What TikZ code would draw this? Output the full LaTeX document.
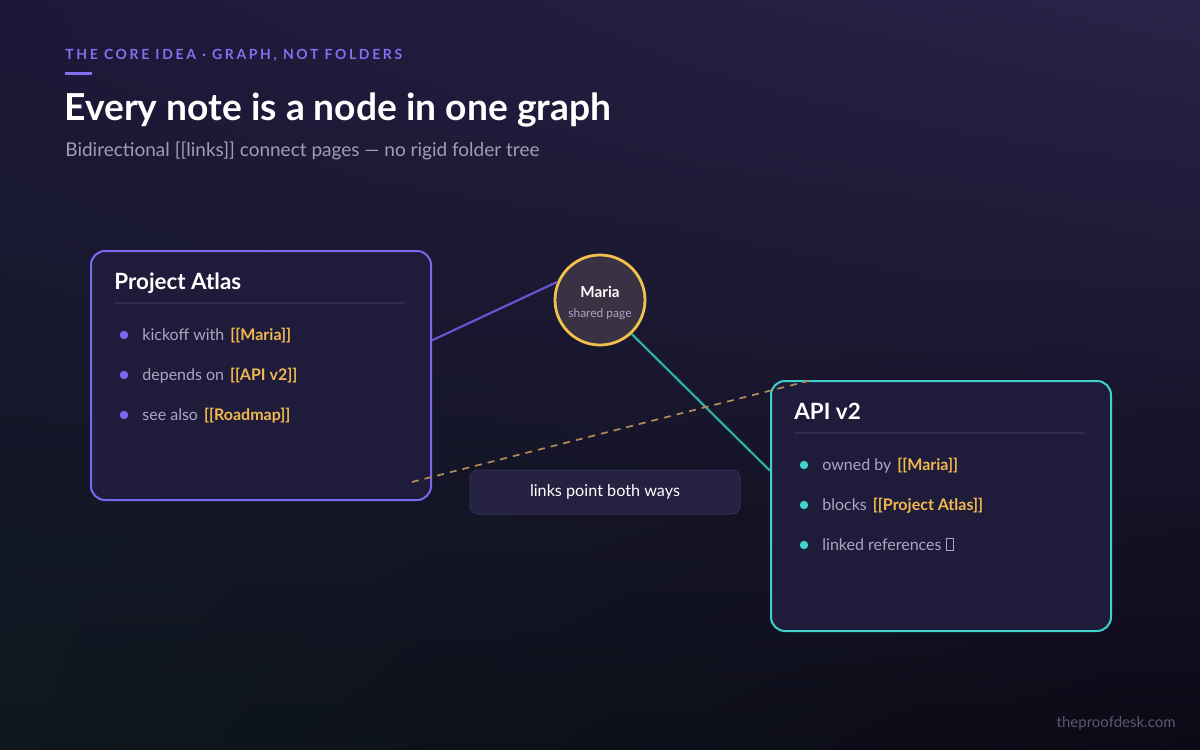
\documentclass[tikz,border=0pt]{standalone}
\usepackage{fontspec}
\setmainfont{Lato}
\newfontfamily\kickerfont[LetterSpace=19]{Lato}
\usetikzlibrary{calc,positioning,shadings}

\definecolor{bgUL}{HTML}{1D1839}
\definecolor{bgUR}{HTML}{2B2249}
\definecolor{bgLL}{HTML}{0E171D}
\definecolor{bgLR}{HTML}{0B0915}
\definecolor{accent}{HTML}{8270F0}
\definecolor{cardfill}{HTML}{1F1B3A}
\definecolor{rulecol}{HTML}{2F2A4C}
\definecolor{itemgray}{HTML}{ABA6C2}
\definecolor{subgray}{HTML}{A19CB6}
\definecolor{linkgold}{HTML}{F0B84E}
\definecolor{atlasline}{HTML}{7B68EE}
\definecolor{apiline}{HTML}{3FD2CC}
\definecolor{tealline}{HTML}{2BAFA6}
\definecolor{purpline}{HTML}{6555CC}
\definecolor{mariafill}{HTML}{3A3142}
\definecolor{mariaring}{HTML}{F2C04E}
\definecolor{pillfill}{HTML}{252140}
\definecolor{pillline}{HTML}{332E56}
\definecolor{dashgold}{HTML}{B08C58}
\definecolor{footgray}{HTML}{5C5874}

\newcommand{\lnk}[1]{\hspace{0.12em}\textcolor{linkgold}{\bfseries #1}}
\newcommand{\tofubox}{{\fboxsep=0pt\fboxrule=0.35pt\fbox{\rule{0pt}{0.68em}\hspace{0.42em}}}}

\begin{document}
\begin{tikzpicture}[
  x=0.5pt, y=-0.5pt,
  card/.style={draw, line width=1pt, rounded corners=7pt, fill=cardfill, anchor=north west,
    minimum width=170pt, minimum height=125pt, inner sep=0pt},
  cardtitle/.style={anchor=base west, inner sep=0pt, text=white, font=\fontsize{11.2}{13}\selectfont\bfseries},
  item/.style={anchor=base west, inner sep=0pt, text=itemgray, font=\fontsize{8}{9.5}\selectfont},
  bullet/.style={circle, inner sep=0pt, minimum size=4.2pt},
  sepline/.style={rulecol, line width=0.6pt},
  plain/.style={anchor=base west, inner sep=0pt}
]
\useasboundingbox (0,0) rectangle (1200,750);
\shade[upper left=bgUL, upper right=bgUR, lower left=bgLL, lower right=bgLR] (0,0) rectangle (1200,750);

% heading
\node[plain, text=accent, font=\kickerfont\fontsize{7}{8}\selectfont\bfseries] (kicker) at (65,59)
  {THE CORE IDEA · GRAPH, NOT FOLDERS};
\fill[accent] (65,71.5) rectangle (92,74.5);
\node[plain, text=white, font=\fontsize{18.6}{21}\selectfont\bfseries] (title) at (64,120)
  {Every note is a node in one graph};
\node[plain, text=subgray, font=\fontsize{9.5}{11}\selectfont] (subtitle) at (65,156)
  {Bidirectional [[links]] connect pages — no rigid folder tree};

% cards
\node[card, draw=atlasline, minimum height=124.5pt] (atlas) at (90,250) {};
\node[cardtitle] (atlasT) at (114,289) {Project Atlas};
\draw[sepline] (114,303) -- (405,303);
\node[bullet, fill=atlasline] (a1) at (124,335) {};
\node[bullet, fill=atlasline] (a2) at (124,375) {};
\node[bullet, fill=atlasline] (a3) at (124,415) {};
\node[item] (a1t) at (142,340) {kickoff with \lnk{[[Maria]]}};
\node[item] (a2t) at (142,380) {depends on \lnk{[[API v2]]}};
\node[item] (a3t) at (142,420) {see also \lnk{[[Roadmap]]}};

\node[card, draw=apiline] (api) at (770,380) {};
\node[cardtitle] (apiT) at (794,419) {API v2};
\draw[sepline] (794,433) -- (1085,433);
\node[bullet, fill=apiline] (b1) at (804,465) {};
\node[bullet, fill=apiline] (b2) at (804,505) {};
\node[bullet, fill=apiline] (b3) at (804,545) {};
\node[item] (b1t) at (822,470) {owned by \lnk{[[Maria]]}};
\node[item] (b2t) at (822,510) {blocks \lnk{[[Project Atlas]]}};
\node[item] (b3t) at (822,550) {linked references \tofubox};

% shared page
\node[circle, draw=mariaring, fill=mariafill, line width=1.4pt, minimum size=45pt, inner sep=0pt] (maria) at (600,300) {};
\node[anchor=base, inner sep=0pt, text=white, font=\fontsize{7.6}{9}\selectfont\bfseries] (mariaT) at (600,297) {Maria};
\node[anchor=base, inner sep=0pt, text=itemgray, font=\fontsize{6}{7}\selectfont] (mariaS) at (600,317) {shared page};

% links
\draw[purpline, line width=1.1pt] ($(atlas.north east)!0.36!(atlas.south east)$) -- (maria.157);
\draw[tealline, line width=1.1pt] (maria.-47) -- ($(api.north west)!0.36!(api.south west)$);
\draw[dashgold, line width=0.85pt, dash pattern=on 3.5pt off 3pt]
  ([shift={(-20,-19)}]atlas.south east) -- ([xshift=21pt]api.north west);

% caption
\node[draw=pillline, fill=pillfill, line width=0.5pt, rounded corners=4pt, minimum width=135pt,
  minimum height=22pt, text=white, font=\fontsize{8.1}{9.5}\selectfont] (pill) at (605,492)
  {links point both ways};

\node[anchor=base east, inner sep=0pt, text=footgray, font=\fontsize{7.5}{8.5}\selectfont] (foot) at (1176,727)
  {theproofdesk.com};
\end{tikzpicture}
\end{document}
